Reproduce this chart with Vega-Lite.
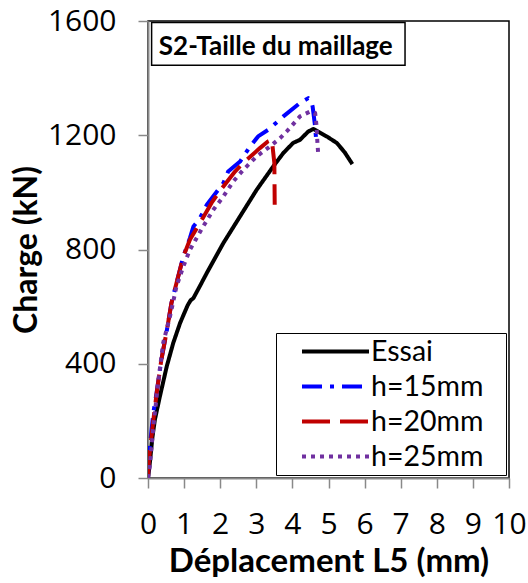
{
  "$schema": "https://vega.github.io/schema/vega-lite/v6.json",
  "autosize": "none",
  "width": 361,
  "height": 457,
  "padding": {"left": 148, "top": 21, "right": 19, "bottom": 105},
  "background": "white",
  "config": {
    "view": {"stroke": "black", "strokeWidth": 1.5},
    "font": "Lato",
    "axis": {"labelOverlap": false, "labelBound": false}
  },
  "datasets": {
    "curves": [
      {"serie": "Essai", "i": 0, "dep": 0, "charge": 0},
      {"serie": "Essai", "i": 1, "dep": 0.03, "charge": 30},
      {"serie": "Essai", "i": 2, "dep": 0.06, "charge": 64},
      {"serie": "Essai", "i": 3, "dep": 0.12, "charge": 140},
      {"serie": "Essai", "i": 4, "dep": 0.19, "charge": 204},
      {"serie": "Essai", "i": 5, "dep": 0.33, "charge": 286},
      {"serie": "Essai", "i": 6, "dep": 0.52, "charge": 391},
      {"serie": "Essai", "i": 7, "dep": 0.7, "charge": 473},
      {"serie": "Essai", "i": 8, "dep": 0.89, "charge": 543},
      {"serie": "Essai", "i": 9, "dep": 1.1, "charge": 605},
      {"serie": "Essai", "i": 10, "dep": 1.18, "charge": 622},
      {"serie": "Essai", "i": 11, "dep": 1.26, "charge": 630},
      {"serie": "Essai", "i": 12, "dep": 1.45, "charge": 675},
      {"serie": "Essai", "i": 13, "dep": 1.63, "charge": 718},
      {"serie": "Essai", "i": 14, "dep": 2.09, "charge": 823},
      {"serie": "Essai", "i": 15, "dep": 2.55, "charge": 916},
      {"serie": "Essai", "i": 16, "dep": 3.01, "charge": 1009},
      {"serie": "Essai", "i": 17, "dep": 3.47, "charge": 1091},
      {"serie": "Essai", "i": 18, "dep": 3.75, "charge": 1138},
      {"serie": "Essai", "i": 19, "dep": 4.02, "charge": 1173},
      {"serie": "Essai", "i": 20, "dep": 4.21, "charge": 1184},
      {"serie": "Essai", "i": 21, "dep": 4.44, "charge": 1213},
      {"serie": "Essai", "i": 22, "dep": 4.58, "charge": 1222},
      {"serie": "Essai", "i": 23, "dep": 4.95, "charge": 1196},
      {"serie": "Essai", "i": 24, "dep": 5.23, "charge": 1173},
      {"serie": "Essai", "i": 25, "dep": 5.45, "charge": 1140},
      {"serie": "Essai", "i": 26, "dep": 5.66, "charge": 1099},

      {"serie": "h=15mm", "i": 0, "dep": 0, "charge": 0},
      {"serie": "h=15mm", "i": 1, "dep": 0.02, "charge": 60},
      {"serie": "h=15mm", "i": 2, "dep": 0.05, "charge": 110},
      {"serie": "h=15mm", "i": 3, "dep": 0.1, "charge": 170},
      {"serie": "h=15mm", "i": 4, "dep": 0.15, "charge": 230},
      {"serie": "h=15mm", "i": 5, "dep": 0.24, "charge": 300},
      {"serie": "h=15mm", "i": 6, "dep": 0.37, "charge": 414},
      {"serie": "h=15mm", "i": 7, "dep": 0.51, "charge": 508},
      {"serie": "h=15mm", "i": 8, "dep": 0.65, "charge": 613},
      {"serie": "h=15mm", "i": 9, "dep": 0.79, "charge": 683},
      {"serie": "h=15mm", "i": 10, "dep": 0.98, "charge": 776},
      {"serie": "h=15mm", "i": 11, "dep": 1.16, "charge": 840},
      {"serie": "h=15mm", "i": 12, "dep": 1.26, "charge": 881},
      {"serie": "h=15mm", "i": 13, "dep": 1.44, "charge": 910},
      {"serie": "h=15mm", "i": 14, "dep": 1.63, "charge": 957},
      {"serie": "h=15mm", "i": 15, "dep": 2.09, "charge": 1033},
      {"serie": "h=15mm", "i": 16, "dep": 2.22, "charge": 1073},
      {"serie": "h=15mm", "i": 17, "dep": 2.55, "charge": 1108},
      {"serie": "h=15mm", "i": 18, "dep": 2.83, "charge": 1161},
      {"serie": "h=15mm", "i": 19, "dep": 3.05, "charge": 1196},
      {"serie": "h=15mm", "i": 20, "dep": 3.33, "charge": 1219},
      {"serie": "h=15mm", "i": 21, "dep": 3.75, "charge": 1266},
      {"serie": "h=15mm", "i": 22, "dep": 4.21, "charge": 1313},
      {"serie": "h=15mm", "i": 23, "dep": 4.44, "charge": 1330},
      {"serie": "h=15mm", "i": 24, "dep": 4.52, "charge": 1320},
      {"serie": "h=15mm", "i": 25, "dep": 4.56, "charge": 1301},
      {"serie": "h=15mm", "i": 26, "dep": 4.62, "charge": 1240},
      {"serie": "h=15mm", "i": 27, "dep": 4.67, "charge": 1167},

      {"serie": "h=20mm", "i": 0, "dep": 0, "charge": 0},
      {"serie": "h=20mm", "i": 1, "dep": 0.02, "charge": 50},
      {"serie": "h=20mm", "i": 2, "dep": 0.055, "charge": 99},
      {"serie": "h=20mm", "i": 3, "dep": 0.15, "charge": 204},
      {"serie": "h=20mm", "i": 4, "dep": 0.24, "charge": 298},
      {"serie": "h=20mm", "i": 5, "dep": 0.37, "charge": 414},
      {"serie": "h=20mm", "i": 6, "dep": 0.51, "charge": 508},
      {"serie": "h=20mm", "i": 7, "dep": 0.65, "charge": 613},
      {"serie": "h=20mm", "i": 8, "dep": 0.79, "charge": 683},
      {"serie": "h=20mm", "i": 9, "dep": 0.98, "charge": 776},
      {"serie": "h=20mm", "i": 10, "dep": 1.16, "charge": 834},
      {"serie": "h=20mm", "i": 11, "dep": 1.44, "charge": 893},
      {"serie": "h=20mm", "i": 12, "dep": 1.76, "charge": 963},
      {"serie": "h=20mm", "i": 13, "dep": 1.95, "charge": 998},
      {"serie": "h=20mm", "i": 14, "dep": 2.41, "charge": 1073},
      {"serie": "h=20mm", "i": 15, "dep": 2.64, "charge": 1103},
      {"serie": "h=20mm", "i": 16, "dep": 3.1, "charge": 1155},
      {"serie": "h=20mm", "i": 17, "dep": 3.32, "charge": 1178},
      {"serie": "h=20mm", "i": 18, "dep": 3.43, "charge": 1184},
      {"serie": "h=20mm", "i": 19, "dep": 3.5, "charge": 1103},
      {"serie": "h=20mm", "i": 20, "dep": 3.51, "charge": 957},

      {"serie": "h=25mm", "i": 0, "dep": 0, "charge": 0},
      {"serie": "h=25mm", "i": 1, "dep": 0.02, "charge": 20},
      {"serie": "h=25mm", "i": 2, "dep": 0.05, "charge": 41},
      {"serie": "h=25mm", "i": 3, "dep": 0.1, "charge": 110},
      {"serie": "h=25mm", "i": 4, "dep": 0.15, "charge": 181},
      {"serie": "h=25mm", "i": 5, "dep": 0.29, "charge": 344},
      {"serie": "h=25mm", "i": 6, "dep": 0.42, "charge": 473},
      {"serie": "h=25mm", "i": 7, "dep": 0.61, "charge": 566},
      {"serie": "h=25mm", "i": 8, "dep": 0.79, "charge": 671},
      {"serie": "h=25mm", "i": 9, "dep": 0.98, "charge": 741},
      {"serie": "h=25mm", "i": 10, "dep": 1.16, "charge": 799},
      {"serie": "h=25mm", "i": 11, "dep": 1.3, "charge": 830},
      {"serie": "h=25mm", "i": 12, "dep": 1.53, "charge": 881},
      {"serie": "h=25mm", "i": 13, "dep": 1.81, "charge": 939},
      {"serie": "h=25mm", "i": 14, "dep": 2.09, "charge": 986},
      {"serie": "h=25mm", "i": 15, "dep": 2.36, "charge": 1038},
      {"serie": "h=25mm", "i": 16, "dep": 2.64, "charge": 1079},
      {"serie": "h=25mm", "i": 17, "dep": 3.01, "charge": 1126},
      {"serie": "h=25mm", "i": 18, "dep": 3.38, "charge": 1161},
      {"serie": "h=25mm", "i": 19, "dep": 3.66, "charge": 1190},
      {"serie": "h=25mm", "i": 20, "dep": 3.84, "charge": 1213},
      {"serie": "h=25mm", "i": 21, "dep": 4.21, "charge": 1266},
      {"serie": "h=25mm", "i": 22, "dep": 4.49, "charge": 1283},
      {"serie": "h=25mm", "i": 23, "dep": 4.63, "charge": 1278},
      {"serie": "h=25mm", "i": 24, "dep": 4.67, "charge": 1231},
      {"serie": "h=25mm", "i": 25, "dep": 4.69, "charge": 1180},
      {"serie": "h=25mm", "i": 26, "dep": 4.72, "charge": 1124}
    ],
    "titlebox": [
      {"label": "S2-Taille du maillage", "x1": 0.1, "x2": 7.12, "y1": 1445, "y2": 1595, "tx": 0.3, "ty": 1510}
    ]
  },
  "layer": [
    {
      "data": {"name": "curves"},
      "mark": {"type": "line", "strokeWidth": 4, "strokeJoin": "round", "clip": true},
      "encoding": {
        "x": {
          "field": "dep", "type": "quantitative",
          "scale": {"domain": [0, 10], "nice": false},
          "axis": {
            "title": "Déplacement L5 (mm)",
            "tickCount": 10,
            "format": "d",
            "grid": false,
            "domainColor": "#898989", "domainWidth": 2,
            "tickColor": "#898989", "tickWidth": 1.5, "tickSize": 10,
            "labelFont": "Open Sans", "labelFontSize": 30, "labelColor": "black",
            "labelPadding": 21, "labelFlush": false, "labelOverlap": false, "labelBound": false,
            "titleFont": "Lato", "titleFontSize": 33, "titleFontWeight": "bold",
            "titleColor": "black", "titlePadding": 6
          }
        },
        "y": {
          "field": "charge", "type": "quantitative",
          "scale": {"domain": [0, 1600], "nice": false},
          "axis": {
            "title": "Charge (kN)",
            "values": [0, 400, 800, 1200, 1600],
            "format": "d",
            "grid": false,
            "domainColor": "#898989", "domainWidth": 2,
            "tickColor": "#898989", "tickWidth": 1.5, "tickSize": 10,
            "labelFont": "Open Sans", "labelFontSize": 30, "labelColor": "black",
            "labelPadding": 22, "labelFlush": false, "labelOverlap": false,
            "titleFont": "Lato", "titleFontSize": 32, "titleFontWeight": "bold",
            "titleColor": "black", "titlePadding": 4
          }
        },
        "order": {"field": "i", "type": "quantitative"},
        "color": {
          "field": "serie", "type": "nominal",
          "scale": {
            "domain": ["Essai", "h=15mm", "h=20mm", "h=25mm"],
            "range": ["#000000", "#0000FF", "#C00000", "#7030A0"]
          },
          "legend": {
            "title": null,
            "orient": "none",
            "legendX": 128,
            "legendY": 312,
            "strokeColor": "black",
            "fillColor": "white",
            "padding": 1,
            "symbolType": "stroke",
            "symbolSize": 4489,
            "symbolStrokeWidth": 4,
            "symbolOffset": 23,
            "labelOffset": 0,
            "labelFont": "Lato",
            "labelFontSize": 28.5,
            "labelColor": "black",
            "clipHeight": 35,
            "rowPadding": 0,
            "labelExpr": "datum.label == 'Essai' ? '\u00a0' + datum.label : datum.label + '\u2800'"
          }
        },
        "strokeDash": {
          "field": "serie", "type": "nominal",
          "scale": {
            "domain": ["Essai", "h=15mm", "h=20mm", "h=25mm"],
            "range": [[1, 0], [20, 8, 4, 8], [28, 10], [4, 5]]
          },
          "legend": {
            "title": null,
            "orient": "none",
            "legendX": 128,
            "legendY": 312,
            "strokeColor": "black",
            "fillColor": "white",
            "padding": 1,
            "symbolType": "stroke",
            "symbolSize": 4489,
            "symbolStrokeWidth": 4,
            "symbolOffset": 23,
            "labelOffset": 0,
            "labelFont": "Lato",
            "labelFontSize": 28.5,
            "labelColor": "black",
            "clipHeight": 35,
            "rowPadding": 0,
            "labelExpr": "datum.label == 'Essai' ? '\u00a0' + datum.label : datum.label + '\u2800'"
          }
        }
      }
    },
    {
      "data": {"name": "titlebox"},
      "mark": {"type": "rect", "fill": "white", "stroke": "black", "strokeWidth": 1.5},
      "encoding": {
        "x": {"field": "x1", "type": "quantitative"},
        "x2": {"field": "x2"},
        "y": {"field": "y1", "type": "quantitative"},
        "y2": {"field": "y2"}
      }
    },
    {
      "data": {"name": "titlebox"},
      "mark": {"type": "text", "align": "left", "baseline": "middle", "font": "Lato", "fontSize": 26, "fontWeight": "bold", "color": "black"},
      "encoding": {
        "x": {"field": "tx", "type": "quantitative"},
        "y": {"field": "ty", "type": "quantitative"},
        "text": {"field": "label"}
      }
    }
  ]
}
